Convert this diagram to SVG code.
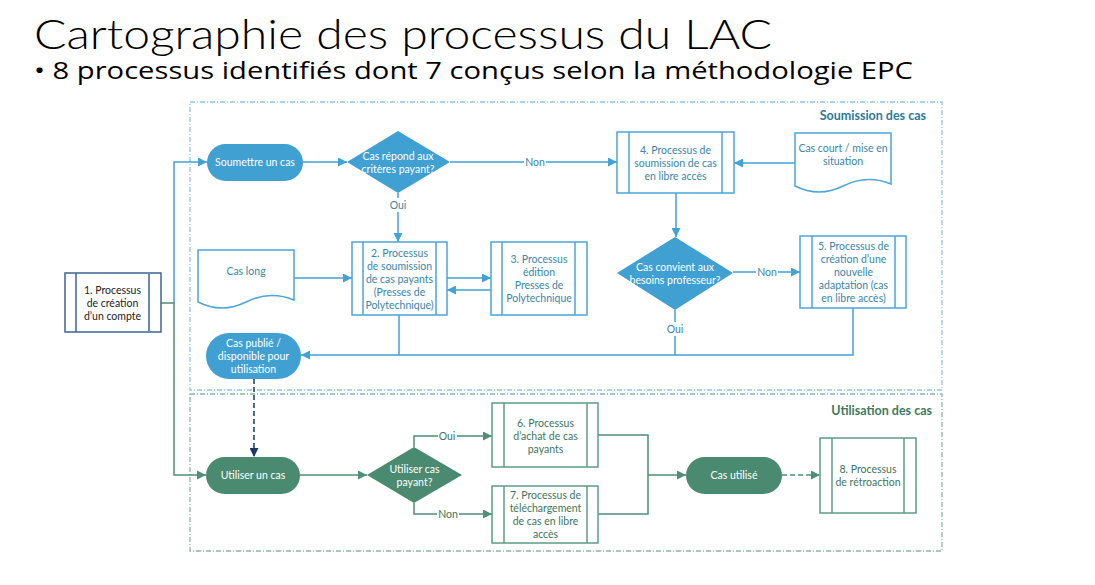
<svg xmlns="http://www.w3.org/2000/svg" width="1095" height="585" viewBox="0 0 1095 585">
<defs>
<style>
.title{font-family:"Lato","Liberation Sans",sans-serif;font-weight:300;fill:#000}
.sub{font-family:"Open Sans","Liberation Sans",sans-serif;font-weight:400;fill:#000}
.t{font-family:"Lato","Liberation Sans",sans-serif;font-size:10.5px;text-anchor:middle}
.tb{fill:#3A86A8}
.tg{fill:#3E7560}
.tw{fill:#ffffff}
.tk{fill:#222}
.lane1{fill:none;stroke:#93C6E8;stroke-width:1.3;stroke-dasharray:5 2 1 2}
.lane2{fill:none;stroke:#8BB5A5;stroke-width:1.3;stroke-dasharray:5 2 1 2}
.lanelbl{font-family:"Lato","Liberation Sans",sans-serif;font-size:12.5px;font-weight:bold;text-anchor:end}
.pb{fill:#fff;stroke:#4BA5D8;stroke-width:1.5}
.pg{fill:#fff;stroke:#5E9C85;stroke-width:1.5}
.fb{fill:#40A0D1}
.fg{fill:#4A8A70}
.cb{fill:none;stroke:#42A1D5;stroke-width:1.5}
.cg{fill:none;stroke:#4F8F75;stroke-width:1.5}
.lbl{fill:#fff;stroke:none}
</style>
<marker id="ab" viewBox="0 0 10 10" refX="10" refY="5" markerWidth="11" markerHeight="9" markerUnits="userSpaceOnUse" orient="auto"><path d="M0,0 L10,5 L0,10 Z" fill="#42A1D5"/></marker>
<marker id="ag" viewBox="0 0 10 10" refX="10" refY="5" markerWidth="11" markerHeight="9" markerUnits="userSpaceOnUse" orient="auto"><path d="M0,0 L10,5 L0,10 Z" fill="#4F8F75"/></marker>
<marker id="an" viewBox="0 0 10 10" refX="10" refY="5" markerWidth="11" markerHeight="9" markerUnits="userSpaceOnUse" orient="auto"><path d="M0,0 L10,5 L0,10 Z" fill="#1F3864"/></marker>
</defs>
<rect width="1095" height="585" fill="#fff"/>

<g id="title">
<text class="title" x="34" y="49" font-size="42" textLength="738" lengthAdjust="spacingAndGlyphs">Cartographie des processus du LAC</text>
<text class="sub" x="34" y="79" font-size="23" textLength="879" lengthAdjust="spacingAndGlyphs">• 8 processus identifiés dont 7 conçus selon la méthodologie EPC</text>
</g>

<g id="lane-soumission">
<rect class="lane1" x="190" y="102" width="752" height="288"/>
<text class="lanelbl" x="926" y="120" fill="#2B7B99">Soumission des cas</text>
</g>
<g id="lane-utilisation">
<rect class="lane2" x="190" y="394" width="752" height="157"/>
<text class="lanelbl" x="932" y="415" fill="#3D7A5F">Utilisation des cas</text>
</g>

<g id="connectors">
<path class="cb" d="M174,303 V162 H207" marker-end="url(#ab)"/>
<path class="cg" d="M161,303 H174 V475 H206" marker-end="url(#ag)"/>
<path class="cb" d="M303,162 H347" marker-end="url(#ab)"/>
<path class="cb" d="M450,162 H617" marker-end="url(#ab)"/>
<rect class="lbl" x="524" y="155" width="22" height="14"/>
<text class="t tb" x="535" y="166">Non</text>
<path class="cb" d="M795,163 H734" marker-end="url(#ab)"/>
<path class="cb" d="M398,193 V242" marker-end="url(#ab)"/>
<rect class="lbl" x="389" y="198" width="19" height="14"/>
<text class="t tb" x="398" y="209">Oui</text>
<path class="cb" d="M294,278 H352" marker-end="url(#ab)"/>
<path class="cb" d="M447,278 H491" marker-end="url(#ab)"/>
<path class="cb" d="M491,290 H447" marker-end="url(#ab)"/>
<path class="cb" d="M676,193 V237" marker-end="url(#ab)"/>
<path class="cb" d="M733,272 H800" marker-end="url(#ab)"/>
<rect class="lbl" x="756" y="265" width="22" height="14"/>
<text class="t tb" x="767" y="276">Non</text>
<path class="cb" d="M675,310 V355 H301" marker-end="url(#ab)"/>
<rect class="lbl" x="666" y="322" width="19" height="14"/>
<text class="t tb" x="675" y="333">Oui</text>
<path class="cb" d="M853,308 V355 H675"/>
<path class="cb" d="M399,315 V355"/>
<path d="M254,379 V457" fill="none" stroke="#1F3864" stroke-width="1.5" stroke-dasharray="5 3" marker-end="url(#an)"/>
<path class="cg" d="M300,475 H367" marker-end="url(#ag)"/>
<path class="cg" d="M414,447 V436 H492" marker-end="url(#ag)"/>
<rect class="lbl" x="438" y="429" width="19" height="14"/>
<text class="t tg" x="447" y="440">Oui</text>
<path class="cg" d="M414,503 V514 H492" marker-end="url(#ag)"/>
<rect class="lbl" x="437" y="507" width="22" height="14"/>
<text class="t tg" x="448" y="518">Non</text>
<path class="cg" d="M598,435 H648 V514 H598"/>
<path class="cg" d="M648,475 H686" stroke-width="2" marker-end="url(#ag)"/>
<path class="cg" d="M782,475 H820" stroke-dasharray="5 3" marker-end="url(#ag)"/>
</g>

<g id="p1">
<rect x="65" y="273" width="96" height="59" fill="#fff" stroke="#3B6594" stroke-width="1.5"/>
<line x1="76" y1="273" x2="76" y2="332" stroke="#3B6594" stroke-width="1.5"/>
<line x1="149" y1="273" x2="149" y2="332" stroke="#6A88AC" stroke-width="2"/>
<text class="t tk" x="112.5" y="294">1. Processus</text>
<text class="t tk" x="112.5" y="307">de création</text>
<text class="t tk" x="112.5" y="320">d’un compte</text>
</g>

<g id="soumettre">
<rect class="fb" x="207" y="144" width="96" height="37" rx="18.5"/>
<text class="t tw" x="255" y="166">Soumettre un cas</text>
</g>

<g id="d1">
<polygon class="fb" points="398,131 450,162 398,193 347,162"/>
<text class="t tw" x="398" y="160">Cas répond aux</text>
<text class="t tw" x="398" y="173">critères payant?</text>
</g>

<g id="p4">
<rect class="pb" x="617" y="132" width="117" height="61"/>
<line class="pb" x1="629" y1="132" x2="629" y2="193"/>
<line class="pb" x1="722" y1="132" x2="722" y2="193"/>
<text class="t tb" x="675.5" y="154">4. Processus de</text>
<text class="t tb" x="675.5" y="167">soumission de cas</text>
<text class="t tb" x="675.5" y="180">en libre accès</text>
</g>

<g id="doc-court">
<path class="pb" d="M795,133 H891 V184 Q867,174 843,186 T795,186 Z"/>
<text class="t tb" x="843" y="152">Cas court / mise en</text>
<text class="t tb" x="843" y="165">situation</text>
</g>

<g id="doc-long">
<path class="pb" d="M198,250 H294 V300 Q270,290 246,302 T198,302 Z"/>
<text class="t tb" x="246" y="275">Cas long</text>
</g>

<g id="p2">
<rect class="pb" x="352" y="242" width="95" height="73"/>
<line class="pb" x1="363" y1="242" x2="363" y2="315"/>
<line class="pb" x1="436" y1="242" x2="436" y2="315"/>
<text class="t tb" x="399.5" y="257">2. Processus</text>
<text class="t tb" x="399.5" y="270">de soumission</text>
<text class="t tb" x="399.5" y="283">de cas payants</text>
<text class="t tb" x="399.5" y="296">(Presses de</text>
<text class="t tb" x="399.5" y="309">Polytechnique)</text>
</g>

<g id="p3">
<rect class="pb" x="491" y="242" width="96" height="73"/>
<line class="pb" x1="502" y1="242" x2="502" y2="315"/>
<line class="pb" x1="575" y1="242" x2="575" y2="315"/>
<text class="t tb" x="539" y="263">3. Processus</text>
<text class="t tb" x="539" y="276">édition</text>
<text class="t tb" x="539" y="289">Presses de</text>
<text class="t tb" x="539" y="302">Polytechnique</text>
</g>

<g id="d2">
<polygon class="fb" points="675,237 733,273 675,310 617,273"/>
<text class="t tw" x="675" y="271">Cas convient aux</text>
<text class="t tw" x="675" y="284">besoins professeur?</text>
</g>

<g id="p5">
<rect class="pb" x="800" y="236" width="106" height="72"/>
<line class="pb" x1="812" y1="236" x2="812" y2="308"/>
<line class="pb" x1="895" y1="236" x2="895" y2="308"/>
<text class="t tb" x="853.5" y="250">5. Processus de</text>
<text class="t tb" x="853.5" y="263">création d’une</text>
<text class="t tb" x="853.5" y="276">nouvelle</text>
<text class="t tb" x="853.5" y="289">adaptation (cas</text>
<text class="t tb" x="853.5" y="302">en libre accès)</text>
</g>

<g id="publie">
<rect class="fb" x="206" y="333" width="95" height="46" rx="23"/>
<text class="t tw" x="253.5" y="347">Cas publié /</text>
<text class="t tw" x="253.5" y="360">disponible pour</text>
<text class="t tw" x="253.5" y="373">utilisation</text>
</g>

<g id="utiliser">
<rect class="fg" x="206" y="457" width="94" height="37" rx="18.5"/>
<text class="t tw" x="253" y="479">Utiliser un cas</text>
</g>

<g id="d3">
<polygon class="fg" points="414,447 462,475 414,503 367,475"/>
<text class="t tw" x="414.5" y="473">Utiliser cas</text>
<text class="t tw" x="414.5" y="486">payant?</text>
</g>

<g id="p6">
<rect class="pg" x="492" y="403" width="106" height="64"/>
<line class="pg" x1="504" y1="403" x2="504" y2="467"/>
<line class="pg" x1="587" y1="403" x2="587" y2="467"/>
<text class="t tg" x="545.5" y="427">6. Processus</text>
<text class="t tg" x="545.5" y="440">d’achat de cas</text>
<text class="t tg" x="545.5" y="453">payants</text>
</g>

<g id="p7">
<rect class="pg" x="492" y="486" width="106" height="57"/>
<line class="pg" x1="504" y1="486" x2="504" y2="543"/>
<line class="pg" x1="587" y1="486" x2="587" y2="543"/>
<text class="t tg" x="545.5" y="499">7. Processus de</text>
<text class="t tg" x="545.5" y="512">téléchargement</text>
<text class="t tg" x="545.5" y="525">de cas en libre</text>
<text class="t tg" x="545.5" y="538">accès</text>
</g>

<g id="utilise">
<rect class="fg" x="686" y="457" width="96" height="37" rx="18.5"/>
<text class="t tw" x="734" y="479">Cas utilisé</text>
</g>

<g id="p8">
<rect class="pg" x="820" y="438" width="96" height="75"/>
<line class="pg" x1="832" y1="438" x2="832" y2="513"/>
<line class="pg" x1="904" y1="438" x2="904" y2="513"/>
<text class="t tg" x="868" y="473">8. Processus</text>
<text class="t tg" x="868" y="486">de rétroaction</text>
</g>
</svg>
